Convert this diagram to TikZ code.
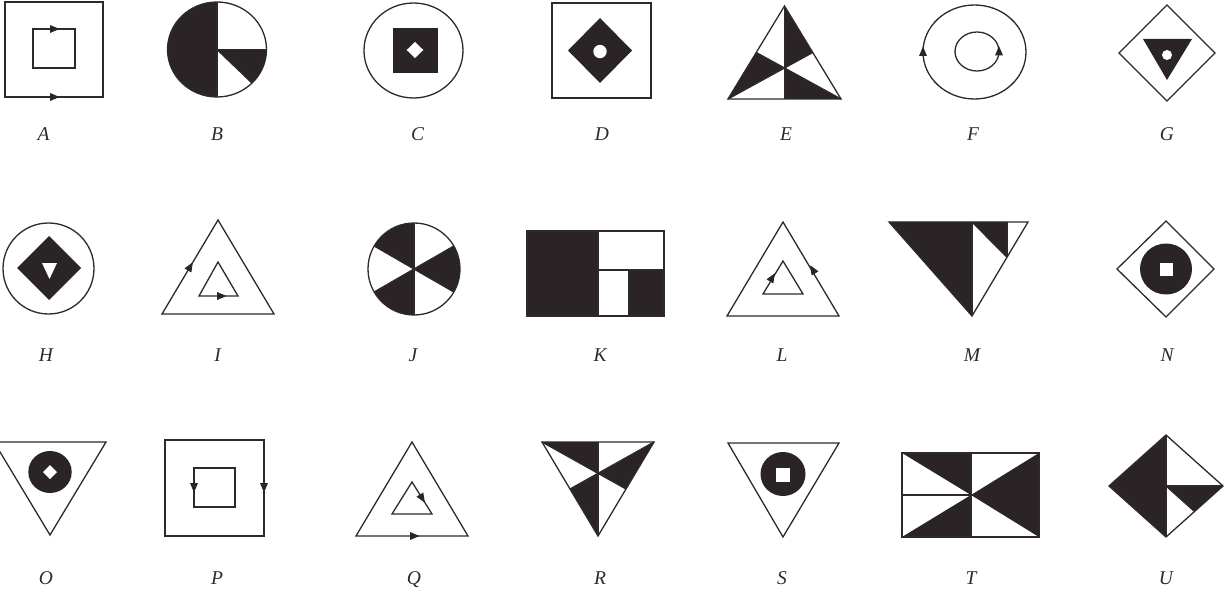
\documentclass[tikz,border=0pt]{standalone}
\usepackage{fontspec}
\setmainfont{Liberation Serif}
\usetikzlibrary{calc}
\definecolor{linec}{RGB}{46,42,44}
\definecolor{fillc}{RGB}{42,36,38}
\tikzset{
  ln/.style={line width=1.3pt, draw=linec, line join=miter},
  fl/.style={fill=fillc},
  wh/.style={fill=white},
  lbl/.style={font=\fontsize{19.5}{21}\selectfont\itshape, anchor=base, inner sep=0pt, text=linec}
}
\newcommand{\arrhd}[2]{\fill[fl,shift={#1},rotate=#2] (5.5,0) -- (-4,4) -- (-4,-4) -- cycle;}
\begin{document}
\begin{tikzpicture}[x=1pt,y=-1pt]
\useasboundingbox (0,0) rectangle (1229,596);
\fill[white] (0,0) rectangle (1229,596);
% ---------- Row 1 ----------
% A
\draw[ln] (5,2) rectangle (103,97);
\draw[ln] (33,29) rectangle (75,68);
\arrhd{(54,29)}{0}
\arrhd{(54,97)}{0}
% B
\fill[fl] (217,2) arc[start angle=90,end angle=270,x radius=49.5pt,y radius=47.5pt] -- cycle;
\fill[fl] (217,49.5) -- (266.5,49.5) arc[start angle=0,end angle=-45,x radius=49.5pt,y radius=47.5pt] -- cycle;
\draw[ln] (217,2) -- (217,97);
\draw[ln] (217,49.5) -- (266.5,49.5);
\draw[ln] (217,49.5) -- (252,83.1);
\draw[ln] (217,49.5) ellipse [x radius=49.5pt, y radius=47.5pt];
% C
\draw[ln] (413.5,50.5) ellipse [x radius=49.5pt, y radius=47.5pt];
\fill[fl] (393,28) rectangle (438,73);
\fill[wh] (415,42) -- (423.3,50) -- (415,58) -- (406.7,50) -- cycle;
% D
\draw[ln] (552,3) rectangle (651,98);
\fill[fl] (600,18) -- (632,50.5) -- (600,83) -- (568,50.5) -- cycle;
\fill[wh] (600,51.5) circle[radius=6.7pt];
% E
\coordinate (Ea) at (784.5,6);
\coordinate (El) at (728,99);
\coordinate (Er) at (841,99);
\coordinate (Eg) at (784.5,68);
\coordinate (Eml) at (756.25,52.5);
\coordinate (Emr) at (812.75,52.5);
\coordinate (Emb) at (784.5,99);
\fill[fl] (Ea) -- (Eg) -- (Emr) -- cycle;
\fill[fl] (El) -- (Eg) -- (Eml) -- cycle;
\fill[fl] (Er) -- (Eg) -- (Emb) -- cycle;
\draw[ln] (Ea) -- (Emb);
\draw[ln] (El) -- (Emr);
\draw[ln] (Er) -- (Eml);
\draw[ln] (Ea) -- (El) -- (Er) -- cycle;
% F
\draw[ln] (974.5,52) ellipse [x radius=51.5pt, y radius=47pt];
\draw[ln] (977,51.5) ellipse [x radius=22pt, y radius=19.5pt];
\arrhd{(923,52)}{90}
\arrhd{(999,51.5)}{90}
% G
\draw[ln] (1119,53) -- (1167,5) -- (1215,53) -- (1167,101) -- cycle;
\fill[fl] (1143,39) -- (1192,39) -- (1167,80) -- cycle;
\fill[wh] (1167,55) circle[radius=5pt];
% labels row 1
\node[lbl] (lA) at (43.5,141) {A};
\node[lbl] (lB) at (217,141) {B};
\node[lbl] (lC) at (417.5,141) {C};
\node[lbl] (lD) at (602,141) {D};
\node[lbl] (lE) at (786,141) {E};
\node[lbl] (lF) at (973,141) {F};
\node[lbl] (lG) at (1167,141) {G};
% ---------- Row 2 ----------
% H
\draw[ln] (48.5,268.5) ellipse [x radius=45.5pt, y radius=45.5pt];
\fill[fl] (17,268) -- (49,236) -- (81,268) -- (49,300) -- cycle;
\fill[wh] (42,263) -- (57,263) -- (49.5,279) -- cycle;
% I
\draw[ln] (218,220) -- (162,314) -- (274,314) -- cycle;
\draw[ln] (218,262) -- (199,296) -- (238,296) -- cycle;
\arrhd{(190,267)}{59.2}
\arrhd{(221,296)}{0}
% J
\fill[fl] (414,269) -- ++(90:46pt) arc[start angle=90,end angle=150,radius=46pt] -- cycle;
\fill[fl] (414,269) -- ++(210:46pt) arc[start angle=210,end angle=270,radius=46pt] -- cycle;
\fill[fl] (414,269) -- ++(-30:46pt) arc[start angle=-30,end angle=30,radius=46pt] -- cycle;
\draw[ln] ($(414,269)+(90:46pt)$) -- ($(414,269)+(270:46pt)$);
\draw[ln] ($(414,269)+(30:46pt)$) -- ($(414,269)+(210:46pt)$);
\draw[ln] ($(414,269)+(150:46pt)$) -- ($(414,269)+(330:46pt)$);
\draw[ln] (414,269) circle[radius=46pt];
% K
\fill[fl] (527,231) rectangle (598,316);
\fill[fl] (629,270) rectangle (664,316);
\draw[ln] (598,270) -- (664,270);
\draw[ln] (629,270) -- (629,316);
\draw[ln] (598,231) -- (598,316);
\draw[ln] (527,231) rectangle (664,316);
% L
\draw[ln] (783,222) -- (727,316) -- (839,316) -- cycle;
\draw[ln] (783,261) -- (763,294) -- (803,294) -- cycle;
\arrhd{(772,278)}{58.8}
\arrhd{(813,270)}{120.8}
% M
\fill[fl] (889,222) -- (972,222) -- (972,316) -- cycle;
\fill[fl] (972,222) -- (1007,222) -- (1007,257.25) -- cycle;
\draw[ln] (972,222) -- (972,316);
\draw[ln] (1007,222) -- (1007,257.25);
\draw[ln] (972,222) -- (1007,257.25);
\draw[ln] (889,222) -- (1028,222) -- (972,316) -- cycle;
% N
\draw[ln] (1117,269) -- (1166,221) -- (1214,269) -- (1166,317) -- cycle;
\fill[fl] (1166,269) ellipse [x radius=26pt, y radius=25.5pt];
\fill[wh] (1159.5,262.5) rectangle (1172.5,275.5);
% labels row 2
\node[lbl] (lH) at (46,361.5) {H};
\node[lbl] (lI) at (217.5,361.5) {I};
\node[lbl] (lJ) at (413,361.5) {J};
\node[lbl] (lK) at (600,361.5) {K};
\node[lbl] (lL) at (782,361.5) {L};
\node[lbl] (lM) at (972,361.5) {M};
\node[lbl] (lN) at (1167,361.5) {N};
% ---------- Row 3 ----------
% O
\draw[ln] (-6,442) -- (106,442) -- (50,535) -- cycle;
\fill[fl] (50,472) ellipse [x radius=21.7pt, y radius=21pt];
\fill[wh] (50,465) -- (57,472) -- (50,479) -- (43,472) -- cycle;
% P
\draw[ln] (165,440) rectangle (264,536);
\draw[ln] (194,468) rectangle (235,507);
\arrhd{(194,487)}{-90}
\arrhd{(264,487)}{-90}
% Q
\draw[ln] (412,442) -- (356,536) -- (468,536) -- cycle;
\draw[ln] (412,482) -- (392,514) -- (432,514) -- cycle;
\arrhd{(422,498)}{-58}
\arrhd{(414,536)}{0}
% R
\coordinate (Rl) at (542,442);
\coordinate (Rr) at (654,442);
\coordinate (Rb) at (598,536);
\coordinate (Rg) at (598,473.3);
\coordinate (Rmt) at (598,442);
\coordinate (Rml) at (570,489);
\coordinate (Rmr) at (626,489);
\fill[fl] (Rl) -- (Rmt) -- (Rg) -- cycle;
\fill[fl] (Rml) -- (Rg) -- (Rb) -- cycle;
\fill[fl] (Rmr) -- (Rg) -- (Rr) -- cycle;
\draw[ln] (Rmt) -- (Rb);
\draw[ln] (Rl) -- (Rmr);
\draw[ln] (Rr) -- (Rml);
\draw[ln] (Rl) -- (Rr) -- (Rb) -- cycle;
% S
\draw[ln] (728,443) -- (839,443) -- (783,537) -- cycle;
\fill[fl] (783,474) ellipse [x radius=22.5pt, y radius=22pt];
\fill[wh] (776,468) rectangle (790,482);
% T
\fill[fl] (902,453) -- (971,453) -- (971,495) -- cycle;
\fill[fl] (971,495) -- (902,537) -- (971,537) -- cycle;
\fill[fl] (971,495) -- (1039,453) -- (1039,537) -- cycle;
\draw[ln] (902,495) -- (971,495);
\draw[ln] (971,453) -- (971,537);
\draw[ln] (902,453) rectangle (1039,537);
% U
\fill[fl] (1166,435) -- (1109,486) -- (1166,537) -- cycle;
\fill[fl] (1166,486) -- (1223,486) -- (1194.5,511.5) -- cycle;
\draw[ln] (1166,435) -- (1166,537);
\draw[ln] (1166,486) -- (1223,486);
\draw[ln] (1166,486) -- (1194.5,511.5);
\draw[ln] (1166,435) -- (1223,486) -- (1166,537) -- (1109,486) -- cycle;
% labels row 3
\node[lbl] (lO) at (46,584) {O};
\node[lbl] (lP) at (217,584) {P};
\node[lbl] (lQ) at (414,584) {Q};
\node[lbl] (lR) at (600,584) {R};
\node[lbl] (lS) at (782,584) {S};
\node[lbl] (lT) at (971,584) {T};
\node[lbl] (lU) at (1166,584) {U};
\end{tikzpicture}
\end{document}
